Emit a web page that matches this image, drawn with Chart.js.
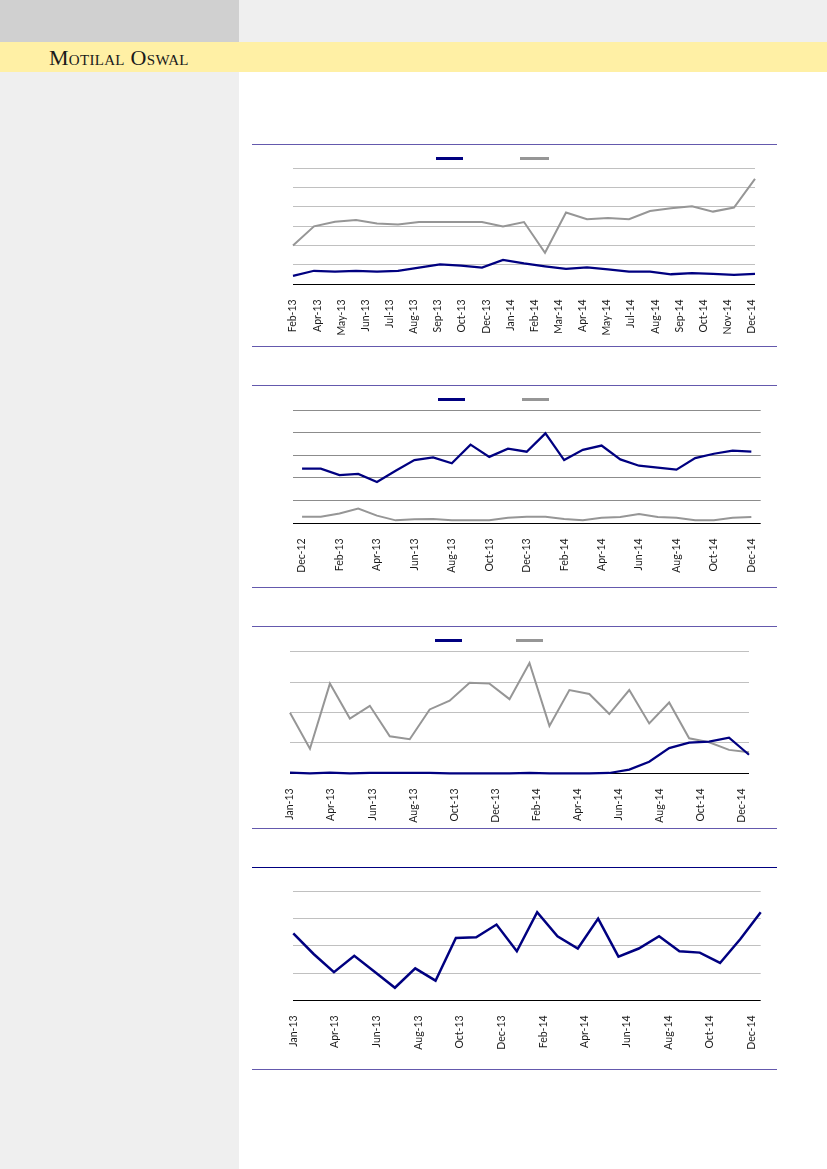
<!DOCTYPE html>
<html>
<head>
<meta charset="utf-8">
<script src="https://cdn.jsdelivr.net/npm/chart.js@4.4.1/dist/chart.umd.min.js"></script>
<style>
  body { margin: 0; width: 827px; height: 1169px; position: relative; background: #fff; overflow: hidden; font-family: Lato, sans-serif; }
  .hdr-l { position: absolute; left: 0; top: 0; width: 239px; height: 42px; background: #d0d0d0; }
  .hdr-r { position: absolute; left: 239px; top: 0; width: 588px; height: 42px; background: #efefef; }
  .band { position: absolute; left: 0; top: 42px; width: 827px; height: 30px; background: #fff0a5; }
  .brand { position: absolute; left: 49px; top: 47px; font-size: 22px; line-height: 22px; font-family: "Liberation Serif", serif; font-variant: small-caps; color: #1a1a1a; letter-spacing: 0.3px; }
  .side { position: absolute; left: 0; top: 72px; width: 239px; height: 1097px; background: #efefef; }
  .rule { position: absolute; left: 252px; width: 525px; height: 1px; background: #6459ad; }
  .box { position: absolute; left: 252px; width: 525px; height: 200px; }
  .sw { position: absolute; height: 3px; }
</style>
</head>
<body>
<div class="hdr-l"></div>
<div class="hdr-r"></div>
<div class="band"></div>
<div class="brand">Motilal Oswal</div>
<div class="side"></div>

<div class="rule" style="top:144px"></div>
<div class="sw" style="left:436px;top:157px;width:27px;background:#000080"></div>
<div class="sw" style="left:520px;top:157px;width:29px;background:#969696"></div>
<div class="box" style="top:145px"><canvas id="c1" width="525" height="200"></canvas></div>
<div class="rule" style="top:346px"></div>

<div class="rule" style="top:385px"></div>
<div class="sw" style="left:438px;top:398px;width:27px;background:#000080"></div>
<div class="sw" style="left:522px;top:398px;width:27px;background:#969696"></div>
<div class="box" style="top:386px"><canvas id="c2" width="525" height="200"></canvas></div>
<div class="rule" style="top:587px"></div>

<div class="rule" style="top:626px"></div>
<div class="sw" style="left:435px;top:639px;width:27px;background:#000080"></div>
<div class="sw" style="left:516px;top:639px;width:27px;background:#969696"></div>
<div class="box" style="top:627px"><canvas id="c3" width="525" height="200"></canvas></div>
<div class="rule" style="top:828px"></div>

<div class="rule" style="top:867px;background:#000080"></div>
<div class="box" style="top:868px"><canvas id="c4" width="525" height="200"></canvas></div>
<div class="rule" style="top:1069px"></div>

<script>
// chart 1 : monthly Feb-13 .. Dec-14
const months1 = ["Feb-13","Mar-13","Apr-13","May-13","Jun-13","Jul-13","Aug-13","Sep-13","Oct-13","Nov-13","Dec-13",
  "Jan-14","Feb-14","Mar-14","Apr-14","May-14","Jun-14","Jul-14","Aug-14","Sep-14","Oct-14","Nov-14","Dec-14"];
const ticks1 = ["Feb-13","Apr-13","May-13","Jun-13","Jul-13","Aug-13","Sep-13","Oct-13","Dec-13","Jan-14",
  "Feb-14","Mar-14","Apr-14","May-14","Jul-14","Aug-14","Sep-14","Oct-14","Nov-14","Dec-14"];
const navy1 = [0.44,0.70,0.65,0.70,0.65,0.70,0.86,1.03,0.96,0.86,1.26,1.08,0.93,0.80,0.87,0.77,0.65,0.65,0.52,0.58,0.54,0.49,0.54];
const grey1 = [2.01,3.00,3.23,3.32,3.15,3.09,3.22,3.22,3.22,3.22,2.99,3.22,1.63,3.71,3.37,3.43,3.37,3.79,3.93,4.04,3.76,3.97,5.45];

// chart 2 : monthly Dec-12 .. Dec-14
const months2 = ["Dec-12","Jan-13","Feb-13","Mar-13","Apr-13","May-13","Jun-13","Jul-13","Aug-13","Sep-13","Oct-13","Nov-13","Dec-13",
  "Jan-14","Feb-14","Mar-14","Apr-14","May-14","Jun-14","Jul-14","Aug-14","Sep-14","Oct-14","Nov-14","Dec-14"];
const ticks2 = ["Dec-12","Feb-13","Apr-13","Jun-13","Aug-13","Oct-13","Dec-13","Feb-14","Apr-14","Jun-14","Aug-14","Oct-14","Dec-14"];
const navy2 = [2.41,2.41,2.13,2.18,1.82,2.32,2.79,2.91,2.65,3.47,2.93,3.29,3.16,3.97,2.79,3.24,3.43,2.82,2.54,2.46,2.37,2.88,3.07,3.21,3.16];
const grey2 = [0.29,0.29,0.43,0.65,0.34,0.13,0.18,0.19,0.13,0.13,0.13,0.24,0.29,0.29,0.19,0.13,0.24,0.28,0.41,0.28,0.24,0.13,0.13,0.24,0.28];

// charts 3 and 4 : monthly Jan-13 .. Dec-14
const months3 = ["Jan-13","Feb-13","Mar-13","Apr-13","May-13","Jun-13","Jul-13","Aug-13","Sep-13","Oct-13","Nov-13","Dec-13",
  "Jan-14","Feb-14","Mar-14","Apr-14","May-14","Jun-14","Jul-14","Aug-14","Sep-14","Oct-14","Nov-14","Dec-14"];
const ticks3 = ["Jan-13","Apr-13","Jun-13","Aug-13","Oct-13","Dec-13","Feb-14","Apr-14","Jun-14","Aug-14","Oct-14","Dec-14"];
const navy3 = [0.02,0.0,0.02,0.0,0.01,0.01,0.01,0.01,0.0,0.0,0.0,0.0,0.01,0.0,0.0,0.0,0.01,0.12,0.38,0.83,1.01,1.04,1.17,0.61];
const grey3 = [1.99,0.81,2.95,1.80,2.22,1.22,1.12,2.10,2.39,2.98,2.95,2.44,3.63,1.56,2.74,2.61,1.95,2.74,1.64,2.33,1.15,1.02,0.77,0.69];

const navy4 = [2.46,1.70,1.03,1.63,1.05,0.46,1.17,0.72,2.29,2.31,2.78,1.80,3.23,2.35,1.90,3.00,1.60,1.90,2.35,1.80,1.75,1.37,2.25,3.23];

const NAVY = "#000080";
const GREY = "#969696";

function labelAxis(labels, lo, hi, h) {
  return {
    type: "linear",
    position: "bottom",
    min: lo,
    max: hi,
    grid: { display: false },
    border: { display: false },
    afterBuildTicks: (s) => {
      s.ticks = labels.map((t, i) => ({ value: i }));
    },
    afterFit: (s) => {
      s.height = h;
    },
    ticks: {
      autoSkip: false,
      minRotation: 90,
      maxRotation: 90,
      padding: 7,
      color: "#1a1a1a",
      font: { family: "Lato", size: 10.5 },
      callback: (v) => labels[v],
    },
  };
}

function yAxis(max, gridColor) {
  return {
    min: 0,
    max: max,
    border: { display: false },
    ticks: { display: false, stepSize: 1 },
    grid: {
      drawTicks: false,
      color: (c) => (c.tick.value === 0 ? "#000" : gridColor),
    },
  };
}

function line(data, color, w) {
  return { data: data, borderColor: color, borderWidth: w, pointRadius: 0, tension: 0, clip: false, fill: false };
}

function makeChart(id, months, datasets, xOffset, xt, y, pad) {
  const ctx = document.getElementById(id).getContext("2d");
  return new Chart(ctx, {
    type: "line",
    data: { labels: months, datasets: datasets },
    options: {
      responsive: false,
      animation: false,
      layout: { padding: pad },
      plugins: { legend: { display: false }, tooltip: { enabled: false } },
      scales: {
        x: { type: "category", display: false, offset: xOffset },
        xt: xt,
        y: y,
      },
    },
  });
}

window.onload = function () {
  makeChart("c1", months1, [line(navy1, NAVY, 2.25), line(grey1, GREY, 2)], false,
    labelAxis(ticks1, 0, 19.13, 60.7), yAxis(6, "#c0c0c0"),
    { left: 41, right: 22, top: 23.3, bottom: 0 });

  makeChart("c2", months2, [line(navy2, NAVY, 2.25), line(grey2, GREY, 2)], true,
    labelAxis(ticks2, -0.25, 12.25, 62.7), yAxis(5, "#8c8c8c"),
    { left: 40.7, right: 16.3, top: 24, bottom: 0 });

  makeChart("c3", months3, [line(navy3, NAVY, 2.25), line(grey3, GREY, 2)], false,
    labelAxis(ticks3, 0, 11.18, 53.7), yAxis(4, "#c0c0c0"),
    { left: 38, right: 28, top: 24.7, bottom: 0 });

  makeChart("c4", months3, [line(navy4, NAVY, 2.5)], false,
    labelAxis(ticks3, 0, 11.22, 67.7), yAxis(4, "#c0c0c0"),
    { left: 41.3, right: 16.3, top: 23.3, bottom: 0 });
};
</script>
</body>
</html>
